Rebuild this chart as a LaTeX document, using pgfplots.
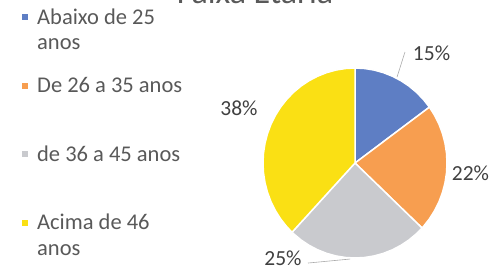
\documentclass[border=0pt]{standalone}
\usepackage{pgfplots}
\pgfplotsset{compat=1.18}
\usepackage{fontspec}
\setmainfont{Carlito}
\definecolor{cblue}{RGB}{94,126,196}
\definecolor{corange}{RGB}{247,158,80}
\definecolor{cgray}{RGB}{201,202,206}
\definecolor{cyellow}{RGB}{250,224,20}
\definecolor{txtgray}{RGB}{89,89,89}
\definecolor{lblgray}{RGB}{64,64,64}
\definecolor{lingray}{RGB}{170,170,170}
\begin{document}
\begin{tikzpicture}
\useasboundingbox (0,0) rectangle (494pt,270pt);
\clip (0,0) rectangle (494pt,270pt);
\begin{axis}[
  at={(0pt,0pt)}, anchor=south west,
  x=92pt, y=95pt,
  xmin=-3.8587, xmax=1.5109, ymin=-1.1263, ymax=1.7158,
  hide axis, clip=false,
  legend cell align=left,
  legend style={at={(axis description cs:0.0445,0.970)}, anchor=north west,
    draw=none, fill=none, inner sep=0pt, column sep=9pt, row sep=0pt,
    font=\fontsize{22.5}{25.5}\selectfont, text=txtgray,
    cells={anchor=base west},
    nodes={inner sep=0pt, text height=16pt, text depth=52.5pt}},
  legend image code/.code={\fill[#1,draw=none] (0pt,4pt) rectangle (6pt,10pt);},
]
% slices: 15% (blue), 22% (orange), 25% (gray), 38% (yellow); clockwise from 90 deg
\addplot[fill=cblue, draw=white, line width=1.5pt, data cs=polar] coordinates {
 (0,0) (90,1) (84,1) (78,1) (72,1) (66,1) (60,1) (54,1) (48,1) (42,1) (36,1)} -- cycle;
\addlegendentry{\parbox[t]{150pt}{\raggedright Abaixo de 25\\anos}}
\addplot[fill=corange, draw=white, line width=1.5pt, data cs=polar] coordinates {
 (0,0) (36,1) (30,1) (24,1) (18,1) (12,1) (6,1) (0,1) (-6,1) (-12,1) (-18,1)
 (-24,1) (-30,1) (-36,1) (-42,1) (-43.2,1)} -- cycle;
\addlegendentry{\parbox[t]{150pt}{\raggedright De 26 a 35 anos}}
\addplot[fill=cgray, draw=white, line width=1.5pt, data cs=polar] coordinates {
 (0,0) (-43.2,1) (-48,1) (-54,1) (-60,1) (-66,1) (-72,1) (-78,1) (-84,1) (-90,1)
 (-96,1) (-102,1) (-108,1) (-114,1) (-120,1) (-126,1) (-132,1) (-133.2,1)} -- cycle;
\addlegendentry{\parbox[t]{150pt}{\raggedright de 36 a 45 anos}}
\addplot[fill=cyellow, draw=white, line width=1.5pt, data cs=polar] coordinates {
 (0,0) (-133.2,1) (-138,1) (-144,1) (-150,1) (-156,1) (-162,1) (-168,1) (-174,1)
 (-180,1) (-186,1) (-192,1) (-198,1) (-204,1) (-210,1) (-216,1) (-222,1) (-228,1)
 (-234,1) (-240,1) (-246,1) (-252,1) (-258,1) (-264,1) (-270,1)} -- cycle;
\addlegendentry{\parbox[t]{150pt}{\raggedright Acima de 46\\anos}}
% leader lines
\addplot[lingray, line width=0.6pt, forget plot] coordinates {(0.543,1.168) (0.457,0.905)};
\addplot[lingray, line width=0.6pt, forget plot] coordinates {(-0.511,-1.053) (-0.054,-1.011)};
% data labels
\node[anchor=base, font=\fontsize{21.5}{25}\selectfont, text=lblgray] at (axis cs:0.832,1.074) {15\%};
\node[anchor=base, font=\fontsize{21.5}{25}\selectfont, text=lblgray] at (axis cs:1.255,-0.179) {22\%};
\node[anchor=base, font=\fontsize{21.5}{25}\selectfont, text=lblgray] at (axis cs:-1.261,0.505) {38\%};
\node[anchor=base, font=\fontsize{21.5}{25}\selectfont, text=lblgray] at (axis cs:-0.783,-1.074) {25\%};
% title (partly cut at the top, as in the reference)
\node[anchor=base, font=\fontsize{34}{40}\selectfont, text=txtgray] at (axis cs:-1.087,1.674) {Faixa Etária};
\end{axis}
\end{tikzpicture}
\end{document}
